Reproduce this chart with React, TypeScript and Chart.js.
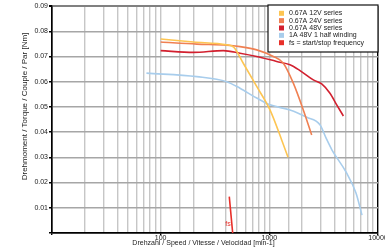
import React, { useEffect, useRef } from 'react';
import { Chart, registerables } from 'chart.js';

Chart.register(...registerables);

// ---- data (speed in min-1, torque in Nm) ----
const speed12V = [100, 200, 405, 470, 572, 765, 1014, 1299, 1486];
const torque12V = [0.0769, 0.0757, 0.0746, 0.0737, 0.0675, 0.0581, 0.0488, 0.0369, 0.030];

const speed24V = [100, 215, 405, 537, 765, 1088, 1345, 1662, 2054, 2453];
const torque24V = [0.0757, 0.0749, 0.0745, 0.0739, 0.0726, 0.0700, 0.0673, 0.0594, 0.0488, 0.0389];

const speed48V = [100, 200, 377, 537, 765, 1168, 1549, 1915, 2540, 3033, 3614, 4170, 4800];
const torque48V = [0.0723, 0.0716, 0.0723, 0.0713, 0.0700, 0.0680, 0.0667, 0.0644, 0.0607, 0.0591, 0.0554, 0.0508, 0.0464];

const speedHalf = [74, 215, 405, 537, 765, 1014, 1549, 2207, 2924, 3322, 3773, 5075, 6272, 7122];
const torqueHalf = [0.0634, 0.0620, 0.0600, 0.0574, 0.0535, 0.0508, 0.0488, 0.0459, 0.0429, 0.0377, 0.0329, 0.0242, 0.0159, 0.0071];

const speedFs = [428, 460];
const torqueFs = [0.0144, 0];

const seriesLabels = [
  '0.67A 12V series',
  '0.67A 24V series',
  '0.67A 48V series',
  '1A 48V 1 half winding',
  'fs = start/stop frequency',
];
const seriesColors = ['#FDC552', '#F08052', '#D2202F', '#A8CDEC', '#E8302A'];

const xMin = 10;
const xMax = 10000;
const xLabelled = [100, 1000, 10000];
const yMin = 0;
const yMax = 0.09;
const yStep = 0.01;

const fsLabel = 'fs';
const fsLabelPos = [416, 0.0036];

const xTitle = 'Drehzahl / Speed / Vitesse / Velocidad [min-1]';
const yTitle = 'Drehmoment / Torque / Couple / Par [Nm]';

const FONT = '"Liberation Sans", Arial, sans-serif';

const pts = (xs: number[], ys: number[]) => xs.map((x, i) => ({ x, y: ys[i] }));

const decorPlugin = {
  id: 'decor',
  afterDatasetsDraw(chart: any) {
    const { ctx, chartArea: a, scales } = chart;
    ctx.save();
    // fs label
    ctx.fillStyle = seriesColors[4];
    ctx.font = `7px ${FONT}`;
    ctx.textAlign = 'center';
    ctx.textBaseline = 'middle';
    ctx.fillText(fsLabel, scales.x.getPixelForValue(fsLabelPos[0]), scales.y.getPixelForValue(fsLabelPos[1]));

    // legend box
    const w = 110;
    const h = 47;
    const left = a.right - w;
    const top = a.top - 1;
    ctx.fillStyle = '#fff';
    ctx.fillRect(left, top, w, h);
    ctx.strokeStyle = '#111';
    ctx.lineWidth = 1.2;
    ctx.strokeRect(left, top, w, h);
    chart.data.datasets.forEach((ds: any, i: number) => {
      const cy = top + 8.3 + i * 7.35;
      ctx.fillStyle = ds.borderColor;
      ctx.fillRect(left + 11, cy - 2.5, 5, 5);
      ctx.fillStyle = '#222';
      ctx.textAlign = 'left';
      ctx.textBaseline = 'middle';
      ctx.font = `7px ${FONT}`;
      ctx.fillText(ds.label, left + 21, cy);
    });

    // axis titles
    ctx.fillStyle = '#222';
    ctx.textAlign = 'center';
    ctx.textBaseline = 'middle';
    ctx.font = `7px ${FONT}`;
    ctx.fillText(xTitle, 203.5, 243.5);
    ctx.save();
    ctx.translate(25, 106.5);
    ctx.rotate(-Math.PI / 2);
    ctx.font = `8px ${FONT}`;
    ctx.fillText(yTitle, 0, 0);
    ctx.restore();
    ctx.restore();
  },
};

function isPow10(v: number) {
  const l = Math.log10(v);
  return Math.abs(l - Math.round(l)) < 1e-9;
}

export default function App() {
  const ref = useRef<HTMLCanvasElement>(null);
  useEffect(() => {
    document.body.style.margin = '0';
    document.body.style.overflow = 'hidden';
    const xs = [speed12V, speed24V, speed48V, speedHalf, speedFs];
    const ys = [torque12V, torque24V, torque48V, torqueHalf, torqueFs];
    const chart = new Chart(ref.current as HTMLCanvasElement, {
      type: 'line',
      data: {
        datasets: seriesLabels.map((label, i) => ({
          label,
          data: pts(xs[i], ys[i]),
          borderColor: seriesColors[i],
          backgroundColor: seriesColors[i],
          borderWidth: 1.6,
          pointRadius: 0,
          fill: false,
          cubicInterpolationMode: 'monotone',
        })),
      },
      options: {
        responsive: false,
        animation: false,
        events: [],
        layout: { padding: { left: 0, right: 7, top: 6, bottom: 0 } },
        plugins: { legend: { display: false }, tooltip: { enabled: false } },
        scales: {
          x: {
            type: 'logarithmic',
            min: xMin,
            max: xMax,
            afterFit(scale: any) {
              scale.height = 17;
              scale.paddingLeft = 0;
              scale.paddingRight = 0;
            },
            border: { color: '#000', width: 1.5 },
            grid: {
              color: (c: any) => {
                const v = c.tick && c.tick.value;
                if (v === xMax || v === xMin) return '#000';
                return '#c6c6c6';
              },
              lineWidth: 1.4,
              tickLength: 2,
              tickColor: (c: any) => (c.tick && isPow10(c.tick.value) ? '#000' : 'rgba(0,0,0,0)'),
            },
            ticks: {
              autoSkip: false,
              maxRotation: 0,
              padding: -1,
              color: '#222',
              font: { family: FONT, size: 7 },
              callback: (v: any) => (xLabelled.includes(Number(v)) ? String(v) : ''),
            },
          },
          y: {
            type: 'linear',
            min: yMin,
            max: yMax,
            afterFit(scale: any) {
              scale.width = 52;
              scale.paddingTop = 0;
              scale.paddingBottom = 0;
            },
            border: { color: '#000', width: 1.5 },
            grid: {
              color: (c: any) => {
                const v = c.tick && c.tick.value;
                if (Math.abs(v - yMax) < 1e-9) return '#808080';
                if (Math.abs(v) < 1e-9) return '#000';
                return '#a6a6a6';
              },
              lineWidth: (c: any) => (c.tick && Math.abs(c.tick.value - yMax) < 1e-9 ? 2 : 1.4),
              tickLength: 3,
              tickColor: '#000',
            },
            ticks: {
              stepSize: yStep,
              padding: 1,
              color: '#222',
              font: { family: FONT, size: 7 },
              callback: (v: any) => (Math.abs(Number(v)) < 1e-9 ? '' : Number(v).toFixed(2)),
            },
          },
        },
      } as any,
      plugins: [decorPlugin],
    });
    return () => chart.destroy();
  }, []);
  return (
    <div style={{ position: 'absolute', left: 0, top: 0, width: 385, height: 250 }}>
      <canvas ref={ref} width={385} height={250} style={{ width: 385, height: 250, display: 'block' }} />
    </div>
  );
}
